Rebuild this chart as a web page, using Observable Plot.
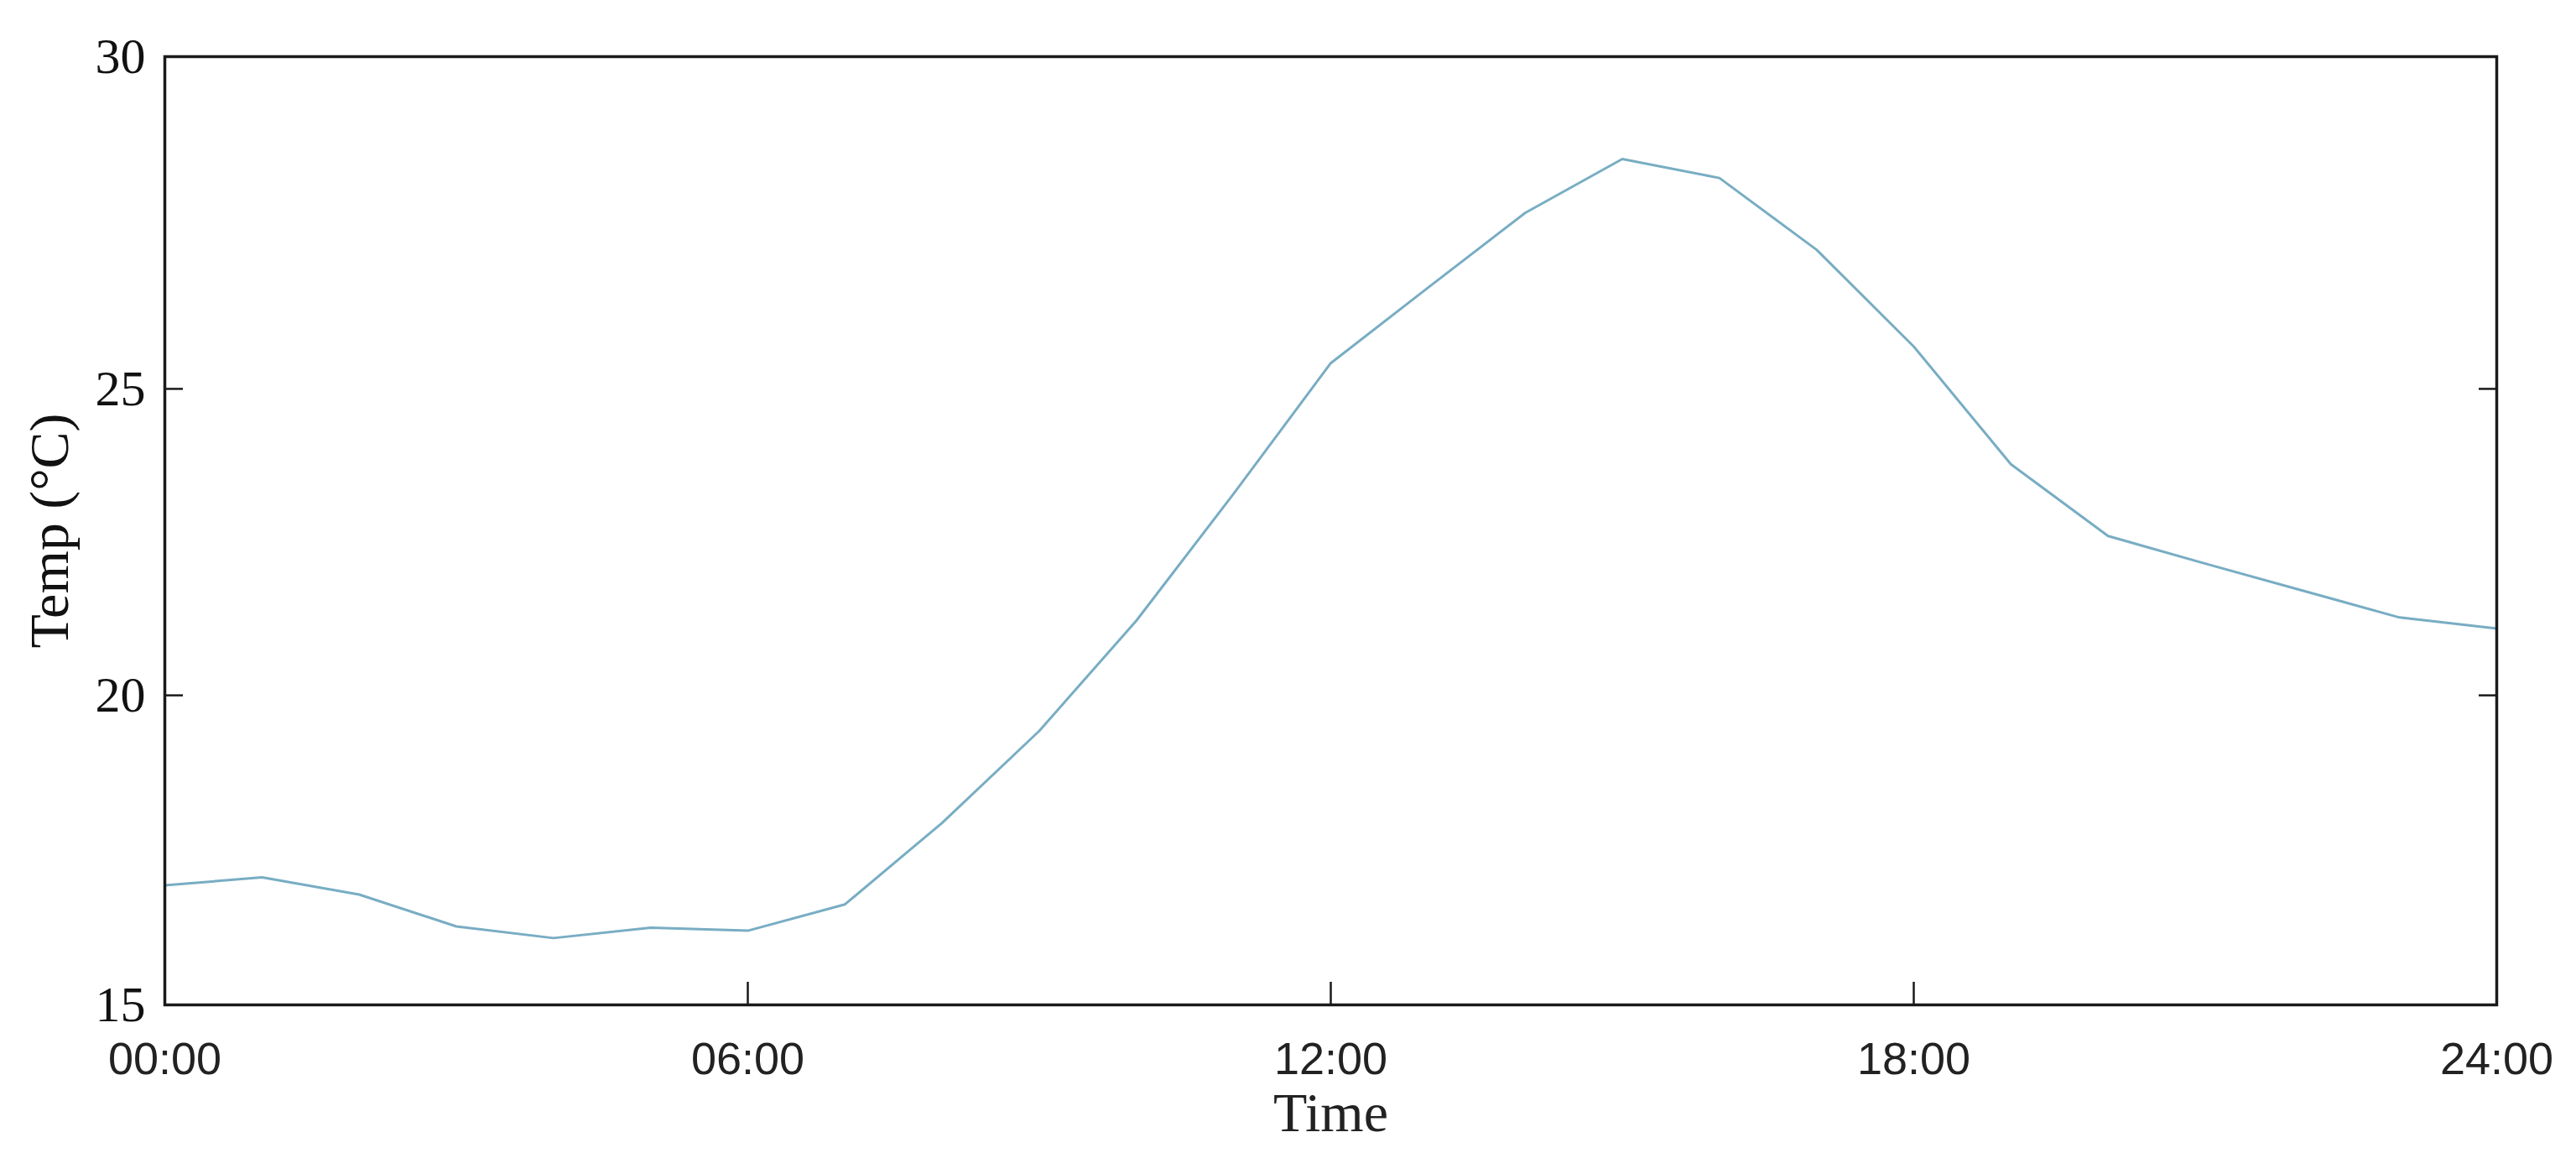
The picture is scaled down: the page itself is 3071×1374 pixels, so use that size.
<!DOCTYPE html>
<html>
<head>
<meta charset="utf-8">
<script src="https://cdn.jsdelivr.net/npm/d3@7"></script>
<script src="https://cdn.jsdelivr.net/npm/@observablehq/plot@0.6"></script>
<style>
  html, body { margin: 0; padding: 0; background: #fff; }
</style>
</head>
<body>
<div id="chart"></div>
<script>
// Hour of day (0–24) and temperature (°C)
const hours = [0,1,2,3,4,5,6,7,8,9,10,11,12,13,14,15,16,17,18,19,20,21,22,23,24];
const temps = [16.90,17.03,16.75,16.23,16.04,16.21,16.16,16.59,17.92,19.42,21.22,23.29,25.42,26.65,27.87,28.75,28.44,27.27,25.69,23.77,22.60,22.15,21.71,21.27,21.09];

const xTicks = [0, 6, 12, 18, 24];
const xInnerTicks = [6, 12, 18];
const yDomain = [14.95, 30.42];
const yInnerTicks = [20, 25];
const yLabelTicks = [yDomain[0], 20, 25, yDomain[1]];

const data = hours.map((h, i) => ({hour: h, temp: temps[i]}));
const fmtHour = h => String(h).padStart(2, "0") + ":00";

const chart = Plot.plot({
  width: 3071,
  height: 1374,
  marginLeft: 196,
  marginRight: 95,
  marginTop: 67,
  marginBottom: 177,
  style: {background: "#fff", color: "#1a1a1a"},
  x: {domain: [0, 24]},
  y: {domain: yDomain},
  marks: [
    Plot.line(data, {x: "hour", y: "temp", stroke: "#78adc3", strokeWidth: 3}),
    // inward ticks
    Plot.axisX(xInnerTicks, {anchor: "bottom", tickSize: -27, text: null, strokeWidth: 2.5, stroke: "#1a1a1a", label: null}),
    Plot.axisY(yInnerTicks, {anchor: "left", tickSize: -22, text: null, strokeWidth: 2.5, stroke: "#1a1a1a", label: null}),
    Plot.axisY(yInnerTicks, {anchor: "right", tickSize: -22, text: null, strokeWidth: 2.5, stroke: "#1a1a1a", label: null}),
    // tick labels and axis titles
    Plot.axisX(xTicks, {
      anchor: "bottom", tickSize: 0, tickPadding: 44, tickFormat: fmtHour,
      fontSize: 54, fontFamily: "Liberation Sans, Arial, sans-serif", fill: "#222",
      label: "Time", labelAnchor: "center", labelArrow: "none", labelOffset: 150
    }),
    Plot.axisY(yLabelTicks, {
      anchor: "left", tickSize: 0, tickPadding: 23, tickFormat: d => Math.round(d),
      fontSize: 60, fontFamily: "Liberation Serif, Times New Roman, serif", fill: "#111",
      label: "Temp (°C)", labelAnchor: "center", labelArrow: "none", labelOffset: 162
    }),
    Plot.frame({stroke: "#1a1a1a", strokeWidth: 3.5})
  ]
});

// enlarge axis titles (serif)
chart.querySelectorAll("[aria-label='x-axis label'], [aria-label='y-axis label']").forEach(g => {
  g.setAttribute("font-size", 66);
  g.setAttribute("font-family", "Liberation Serif, Times New Roman, serif");
});
document.getElementById("chart").appendChild(chart);
</script>
</body>
</html>
